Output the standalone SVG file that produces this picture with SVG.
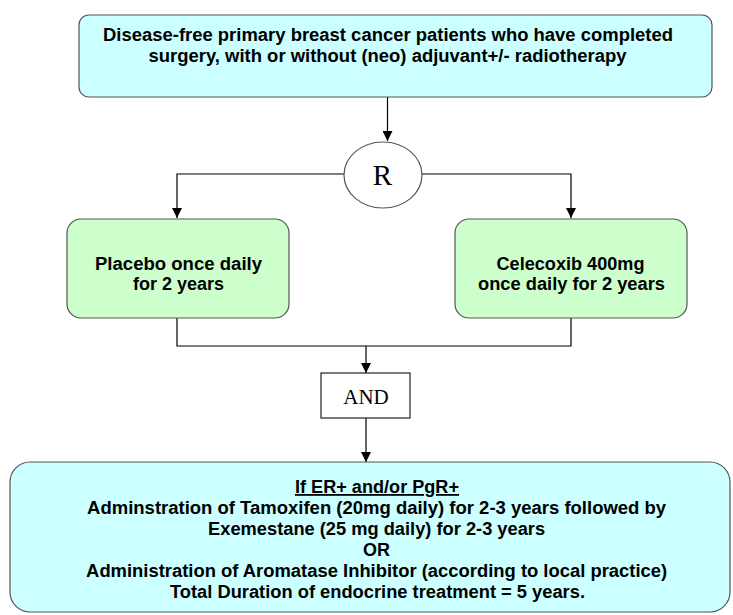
<svg xmlns="http://www.w3.org/2000/svg" width="733" height="615" viewBox="0 0 733 615">
<defs>
<marker id="arr" viewBox="0 0 10 10" refX="10" refY="5" markerWidth="10" markerHeight="10" orient="auto" markerUnits="userSpaceOnUse">
<path d="M0,0 L10,5 L0,10 Z" fill="#000"/>
</marker>
<style>
.t{font-family:"Liberation Sans","Arial",sans-serif;font-weight:bold;font-size:18px;fill:#000;text-anchor:middle}
.s{font-family:"Liberation Serif","Times New Roman",serif;fill:#000;text-anchor:middle}
.box{stroke:#555;stroke-width:1.2}
.ln{fill:none;stroke:#000;stroke-width:1.2}
</style>
</defs>
<rect width="733" height="615" fill="#fff"/>
<g id="connectors">
<path class="ln" d="M387.5,97 V141" marker-end="url(#arr)"/>
<path class="ln" d="M344,174 H177 V218" marker-end="url(#arr)"/>
<path class="ln" d="M422,174 H571 V218" marker-end="url(#arr)"/>
<path class="ln" d="M177,318 V346 H571 V318"/>
<path class="ln" d="M366,346 V373" marker-end="url(#arr)"/>
<path class="ln" d="M366,418 V462" marker-end="url(#arr)"/>
</g>
<g id="top">
<rect class="box" x="79" y="15" width="633" height="82" rx="10" fill="#CCFFFF"/>
<text class="t" x="388" y="40.5" textLength="570" lengthAdjust="spacingAndGlyphs">Disease-free primary breast cancer patients who have completed</text>
<text class="t" x="387.5" y="61.5" textLength="478" lengthAdjust="spacingAndGlyphs">surgery, with or without (neo) adjuvant+/- radiotherapy</text>
</g>
<g id="R">
<ellipse cx="383" cy="175" rx="39" ry="33" fill="#fff" stroke="#555" stroke-width="1.2"/>
<text class="s" x="382.5" y="185" font-size="29">R</text>
</g>
<g id="placebo">
<rect class="box" x="67" y="219" width="222" height="99" rx="14" fill="#CCFFCC"/>
<text class="t" x="178.5" y="270" textLength="167" lengthAdjust="spacingAndGlyphs">Placebo once daily</text>
<text class="t" x="178.5" y="290" textLength="91" lengthAdjust="spacingAndGlyphs">for 2 years</text>
</g>
<g id="celecoxib">
<rect class="box" x="455" y="219" width="232" height="99" rx="14" fill="#CCFFCC"/>
<text class="t" x="570.5" y="270" textLength="148" lengthAdjust="spacingAndGlyphs">Celecoxib 400mg</text>
<text class="t" x="571.5" y="290" textLength="187" lengthAdjust="spacingAndGlyphs">once daily for 2 years</text>
</g>
<g id="and">
<rect x="321" y="373" width="89" height="45" fill="#fff" stroke="#222" stroke-width="1.2"/>
<text class="s" x="366" y="404" font-size="21">AND</text>
</g>
<g id="endocrine">
<rect class="box" x="10" y="462" width="720" height="150" rx="20" fill="#CCFFFF"/>
<text class="t" x="377" y="493" text-decoration="underline" textLength="164" lengthAdjust="spacingAndGlyphs">If ER+ and/or PgR+</text>
<text class="t" x="376.6" y="514" textLength="579" lengthAdjust="spacingAndGlyphs">Adminstration of Tamoxifen (20mg daily) for 2-3 years followed by</text>
<text class="t" x="376.6" y="535" textLength="337" lengthAdjust="spacingAndGlyphs">Exemestane (25 mg daily) for 2-3 years</text>
<text class="t" x="376.6" y="556">OR</text>
<text class="t" x="376.6" y="577" textLength="581" lengthAdjust="spacingAndGlyphs">Administration of Aromatase Inhibitor (according to local practice)</text>
<text class="t" x="377.5" y="598" textLength="415" lengthAdjust="spacingAndGlyphs">Total Duration of endocrine treatment = 5 years.</text>
</g>
</svg>
